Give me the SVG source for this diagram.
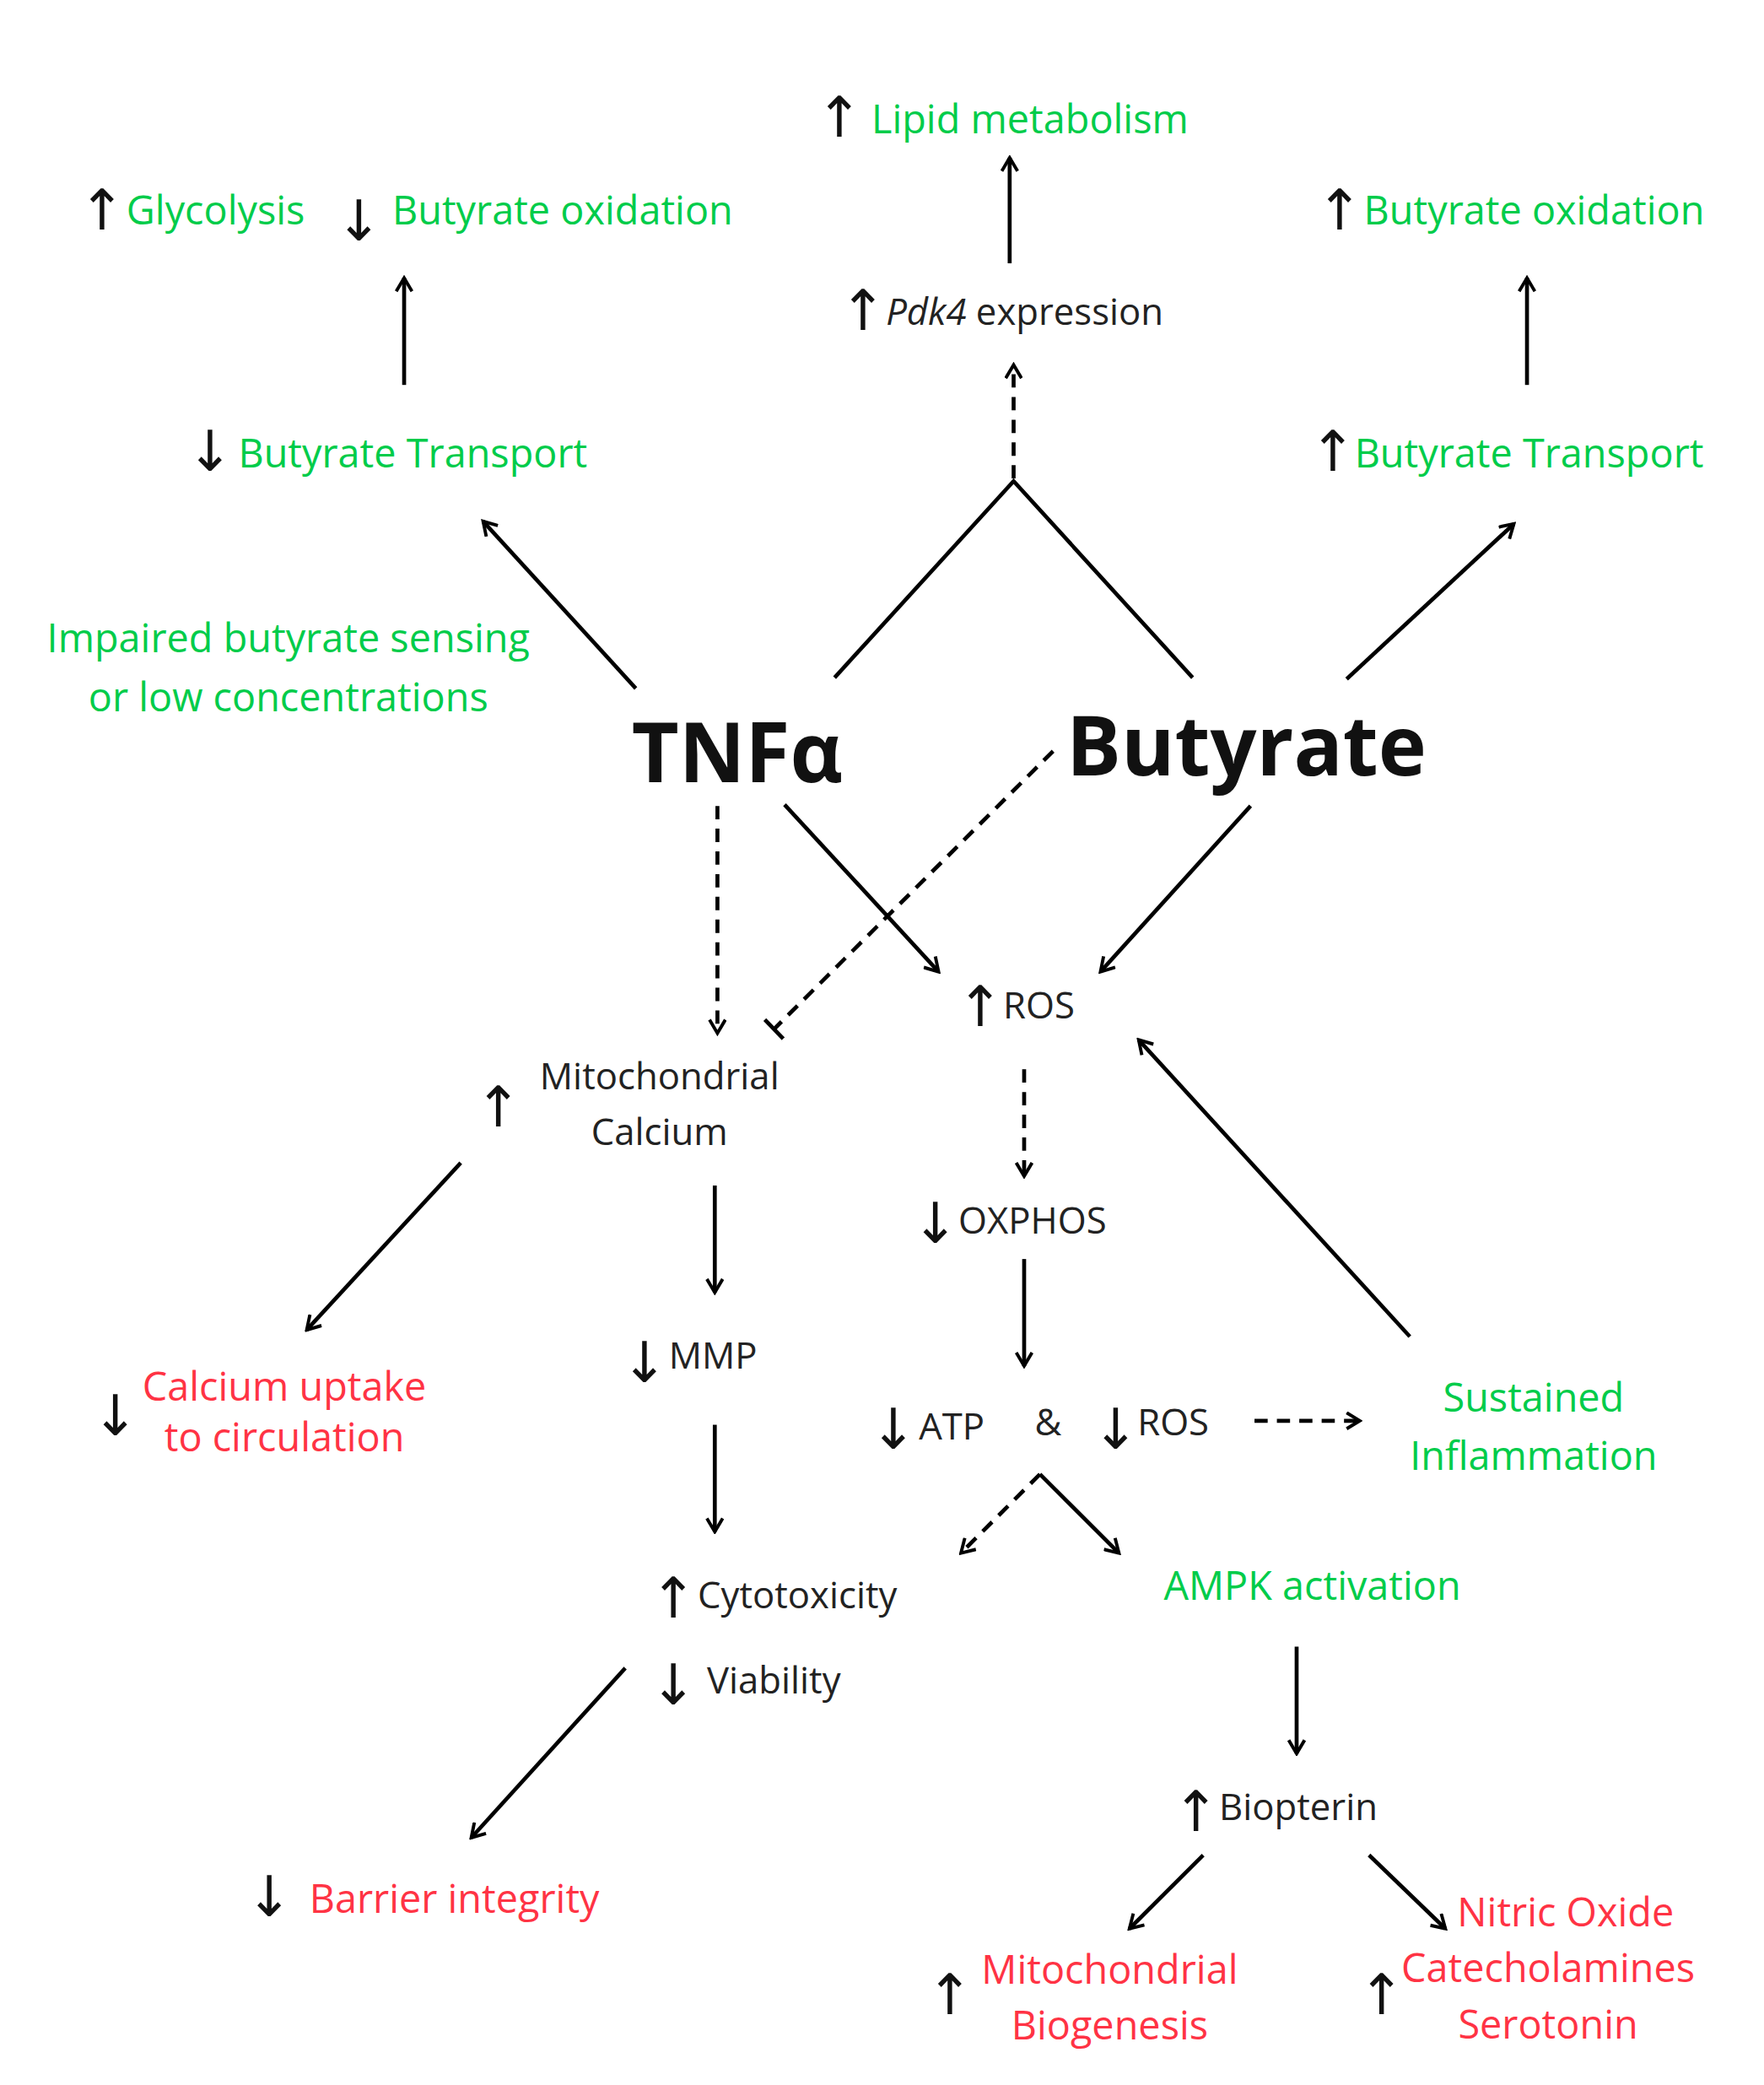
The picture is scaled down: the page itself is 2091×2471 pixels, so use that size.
<svg xmlns="http://www.w3.org/2000/svg" width="2091" height="2471" viewBox="0 0 2091 2471">
<defs>
<marker id="ah" markerWidth="14" markerHeight="14" refX="12" refY="7" orient="auto" markerUnits="userSpaceOnUse"><path d="M2,1 L12,7 L2,13" fill="none" stroke="#000" stroke-width="2.5"/></marker>
<marker id="tb" markerWidth="20" markerHeight="20" refX="2" refY="10" orient="auto" markerUnits="userSpaceOnUse"><path d="M2,0 L2,20" stroke="#000" stroke-width="3"/></marker>
<style>
text{font-family:"Open Sans","Noto Sans",sans-serif;}
.g{fill:#00cc4a;font-size:30px}
.r{fill:#ff3344;font-size:30px}
.k{fill:#222;font-size:28px}
.a{font-family:"DejaVu Sans",sans-serif;font-size:42px;fill:#111}
.b{font-weight:bold;font-size:62px;fill:#111}
.c{text-anchor:middle}
.s{stroke:#000;stroke-width:3;fill:none;marker-end:url(#ah)}
.p{stroke:#000;stroke-width:3;fill:none}
.d{stroke-dasharray:10,7}
</style>
</defs>
<rect width="2091" height="2471" fill="#fff"/>
<g transform="scale(1.5604,1.584)">
<g id="connectors">
<path class="s" d="M767,197 V118"/>
<path class="s d" d="M770,358 V273"/>
<path class="p" d="M634,507 L770,360 L906,507"/>
<path class="s" d="M307,288 V208"/>
<path class="s" d="M483,515 L367,390"/>
<path class="s" d="M1160,288 V208"/>
<path class="s" d="M1023,508 L1150,392"/>
<path class="s d" d="M545,603 V773"/>
<path class="p d" d="M800,562 L588,770" marker-end="url(#tb)"/>
<path class="s" d="M596,602 L713,727"/>
<path class="s" d="M950,603 L836,727"/>
<path class="s d" d="M778,800 V880"/>
<path class="s" d="M778,942 V1022"/>
<path class="s d" d="M953,1063 H1033"/>
<path class="s" d="M1071,1000 L865,778"/>
<path class="s" d="M350,870 L233,995"/>
<path class="s" d="M543,887 V967"/>
<path class="s" d="M543,1066 V1146"/>
<path class="s" d="M475,1248 L358,1375"/>
<path class="s d" d="M790,1103 L730,1162"/>
<path class="s" d="M790,1103 L850,1162"/>
<path class="s" d="M985,1232 V1312"/>
<path class="s" d="M914,1388 L858,1443"/>
<path class="s" d="M1040,1388 L1098,1443"/>
</g>
<g id="lipid"><text class="a" x="620" y="102">↑</text><text class="g" x="662" y="100">Lipid metabolism</text></g>
<g id="pdk4"><text class="a" x="638" y="247">↑</text><text class="k" x="673" y="243"><tspan font-style="italic">Pdk4</tspan> expression</text></g>
<g id="glycolysis"><text class="a" x="60" y="172">↑</text><text class="g" x="96" y="168">Glycolysis</text></g>
<g id="boxL"><text class="a" x="255" y="180">↓</text><text class="g" x="298" y="168">Butyrate oxidation</text></g>
<g id="btL"><text class="a" x="142" y="352">↓</text><text class="g" x="181" y="350">Butyrate Transport</text></g>
<g id="impaired"><text class="g c" x="219" y="488">Impaired butyrate sensing</text><text class="g c" x="219" y="532">or low concentrations</text></g>
<g id="tnf"><text class="b c" x="560" y="585">TNFα</text></g>
<g id="butyrate"><text class="b" x="810" y="580">Butyrate</text></g>
<g id="boxR"><text class="a" x="1000" y="172">↑</text><text class="g" x="1036" y="168">Butyrate oxidation</text></g>
<g id="btR"><text class="a" x="995" y="352">↑</text><text class="g" x="1029" y="350">Butyrate Transport</text></g>
<g id="ros"><text class="a" x="727" y="768">↑</text><text class="k" x="762" y="762">ROS</text></g>
<g id="mitoca"><text class="a" x="361" y="843">↑</text><text class="k c" x="501" y="815">Mitochondrial</text><text class="k c" x="501" y="857">Calcium</text></g>
<g id="oxphos"><text class="a" x="693" y="930">↓</text><text class="k" x="728" y="923">OXPHOS</text></g>
<g id="atp"><text class="a" x="661" y="1084">↓</text><text class="k" x="698" y="1077">ATP</text><text class="k" x="786" y="1074">&amp;</text><text class="a" x="830" y="1084">↓</text><text class="k" x="864" y="1074">ROS</text></g>
<g id="sustained"><text class="g c" x="1165" y="1056">Sustained</text><text class="g c" x="1165" y="1100">Inflammation</text></g>
<g id="cauptake"><text class="a" x="70" y="1074">↓</text><text class="r c" x="216" y="1048">Calcium uptake</text><text class="r c" x="216" y="1086">to circulation</text></g>
<g id="mmp"><text class="a" x="472" y="1034">↓</text><text class="k" x="508" y="1024">MMP</text></g>
<g id="cyto"><text class="a" x="494" y="1210">↑</text><text class="k" x="530" y="1203">Cytotoxicity</text><text class="a" x="494" y="1275">↓</text><text class="k" x="537" y="1267">Viability</text></g>
<g id="barrier"><text class="a" x="187" y="1434">↓</text><text class="r" x="235" y="1431">Barrier integrity</text></g>
<g id="ampk"><text class="g" x="884" y="1197">AMPK activation</text></g>
<g id="biopterin"><text class="a" x="891" y="1370">↑</text><text class="k" x="926" y="1362">Biopterin</text></g>
<g id="biogenesis"><text class="a" x="704" y="1507">↑</text><text class="r c" x="843" y="1484">Mitochondrial</text><text class="r c" x="843" y="1526">Biogenesis</text></g>
<g id="nitric"><text class="r" x="1107" y="1441">Nitric Oxide</text><text class="a" x="1032" y="1507">↑</text><text class="r c" x="1176" y="1483">Catecholamines</text><text class="r c" x="1176" y="1525">Serotonin</text></g>
</g>
</svg>
